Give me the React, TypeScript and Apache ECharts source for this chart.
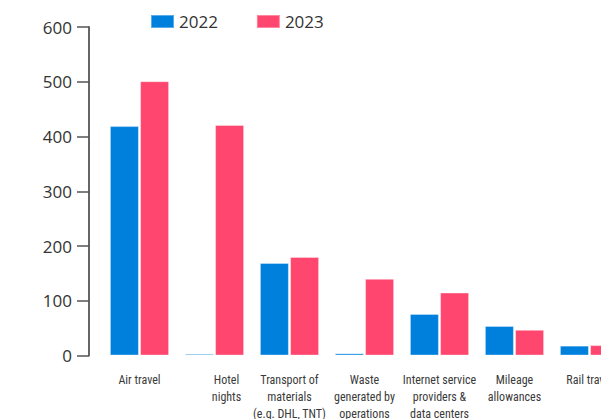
import React, { useEffect, useRef } from "react";
import * as echarts from "echarts";

const categories = [
  "Air travel",
  "Hotel\nnights",
  "Transport of\nmaterials\n(e.g. DHL, TNT)",
  "Waste\ngenerated by\noperations",
  "Internet service\nproviders &\ndata centers",
  "Mileage\nallowances",
  "Rail travel",
];
const values2022 = [419, 3, 169, 4, 76, 54, 18];
const values2023 = [501, 421, 180, 140, 115, 47, 19];
const seriesNames = ["2022", "2023"];
const colors = ["#0080DD", "#FF466E"];

export default function App() {
  const ref = useRef<HTMLDivElement>(null);
  useEffect(() => {
    if (!ref.current) return;
    const chart = echarts.init(ref.current, undefined, { renderer: "svg" });
    chart.setOption({
      animation: false,
      legend: {
        top: 8,
        left: 145,
        itemWidth: 23,
        itemHeight: 13,
        itemGap: 38,
        icon: "rect",
        textStyle: { fontSize: 17, color: "#333", fontFamily: "Open Sans" },
        data: seriesNames,
      },
      grid: { left: 102, top: 27, width: 525, height: 328.5 },
      xAxis: {
        type: "category",
        data: categories.map((c, i) =>
          i === 1 ? { value: c, textStyle: { padding: [0, 0, 0, 24] } } : c
        ),
        axisLine: { show: false },
        axisTick: { show: false },
        axisLabel: {
          interval: 0,
          margin: 16,
          fontSize: 12,
          lineHeight: 17,
          color: "#3a3a3a",
          fontFamily: "'Roboto Condensed', 'Liberation Sans Narrow', 'Arial Narrow', Roboto",
        },
      },
      yAxis: {
        type: "value",
        min: 0,
        max: 600,
        interval: 100,
        offset: 13,
        splitLine: { show: false },
        axisLine: { show: true, lineStyle: { color: "#666", width: 2 } },
        axisTick: { show: true, length: 12, lineStyle: { color: "#555", width: 1.5 } },
        axisLabel: { margin: 17, fontSize: 17, color: "#333", fontFamily: "Open Sans" },
      },
      series: [
        {
          name: seriesNames[0],
          type: "bar",
          data: values2022,
          barWidth: 29,
          barGap: "4%",
          itemStyle: { color: colors[0], borderColor: "rgba(255,255,255,0.35)", borderWidth: 1 },
        },
        {
          name: seriesNames[1],
          type: "bar",
          data: values2023,
          barWidth: 29,
          itemStyle: { color: colors[1], borderColor: "rgba(255,255,255,0.35)", borderWidth: 1 },
        },
      ],
    });
    return () => chart.dispose();
  }, []);
  return (
    <div
      style={{
        position: "fixed",
        left: 0,
        top: 0,
        width: 601,
        height: 419,
        overflow: "hidden",
        background: "#fff",
      }}
    >
      <div ref={ref} style={{ width: 700, height: 440 }} />
    </div>
  );
}
